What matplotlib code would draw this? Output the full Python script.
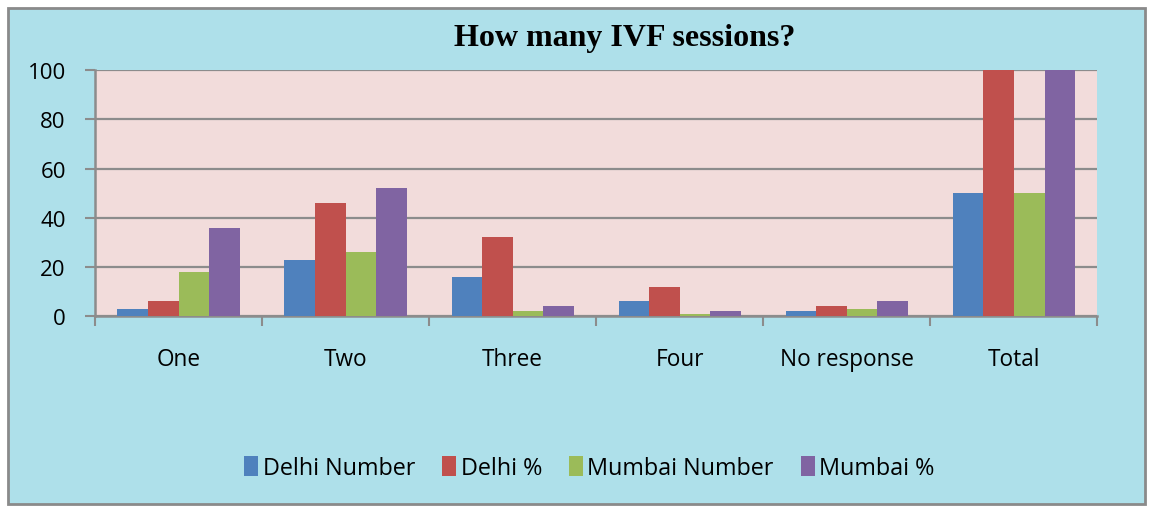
import numpy as np
import matplotlib.pyplot as plt
from matplotlib.patches import Rectangle

categories = ["One", "Two", "Three", "Four", "No response", "Total"]
delhi_number = [3, 23, 16, 6, 2, 50]
delhi_pct = [6, 46, 32, 12, 4, 100]
mumbai_number = [18, 26, 2, 1, 3, 50]
mumbai_pct = [36, 52, 4, 2, 6, 100]

series = [
    ("Delhi Number", delhi_number, "#4f81bd"),
    ("Delhi %", delhi_pct, "#c0504d"),
    ("Mumbai Number", mumbai_number, "#9bbb59"),
    ("Mumbai %", mumbai_pct, "#8064a2"),
]

fig = plt.figure(figsize=(11.51, 5.10), dpi=100)
fig.patch.set_facecolor("white")
# chart area background with grey border
fig.patches.append(Rectangle((0.007, 0.01), 0.988, 0.972, transform=fig.transFigure,
                             facecolor="#aee0ea", edgecolor="#8a8a8a", linewidth=2, zorder=-10))

ax = fig.add_axes([0.0825, 0.378, 0.871, 0.4825])
ax.set_facecolor("#f2dcdb")

x = np.arange(len(categories))
w = 0.183
for i, (name, vals, col) in enumerate(series):
    ax.bar(x + (i - 1.5) * w, vals, width=w, color=col, label=name, zorder=3)

ax.set_xlim(-0.5, len(categories) - 0.5)
ax.set_ylim(0, 100)
ax.set_yticks([0, 20, 40, 60, 80, 100])
ax.yaxis.grid(True, color="#8c8c8c", linewidth=1.6, zorder=1)
ax.set_xticks(x)
ax.set_xticklabels(categories, fontsize=16.3, family="Open Sans")
ax.set_xticks(np.arange(-0.5, len(categories)), minor=True)
ax.tick_params(axis="x", which="major", length=0, pad=22)
ax.tick_params(axis="x", which="minor", length=7, width=1.5, color="#8c8c8c")
ax.tick_params(axis="y", length=7, width=1.5, color="#8c8c8c", labelsize=16, pad=14)
for lab in ax.get_yticklabels():
    lab.set_family("Open Sans")

for s in ["top", "right"]:
    ax.spines[s].set_visible(False)
for s in ["left", "bottom"]:
    ax.spines[s].set_color("#8c8c8c")
    ax.spines[s].set_linewidth(1.8)

fig.text(0.543, 0.924, "How many IVF sessions?", ha="center", va="center",
         fontsize=23, fontweight="bold", family="Liberation Serif")

fig.legend(loc="center", bbox_to_anchor=(0.512, 0.08), ncol=4, frameon=False,
           prop={"family": "Open Sans", "size": 16.8}, handlelength=0.6, handleheight=0.9,
           handletextpad=0.2, columnspacing=1.15)

fig.savefig("out.png", dpi=100)
